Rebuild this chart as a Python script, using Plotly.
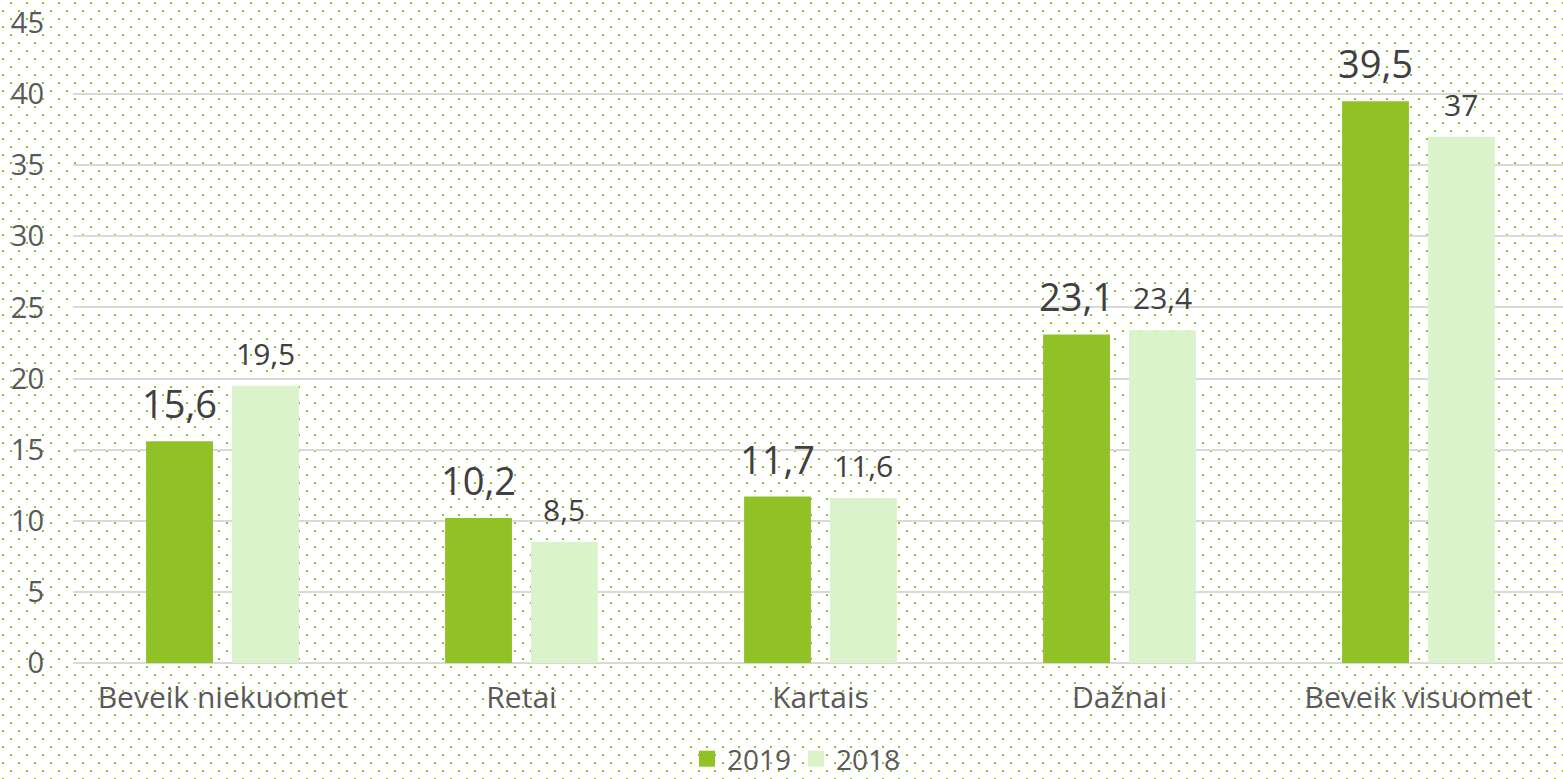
import base64

import plotly.graph_objects as go

categories = ["Beveik niekuomet", "Retai", "Kartais", "Dažnai", "Beveik visuomet"]
values_2019 = [15.6, 10.2, 11.7, 23.1, 39.5]
values_2018 = [19.5, 8.5, 11.6, 23.4, 37]
series = [("2019", values_2019, "#90c226", 38), ("2018", values_2018, "#dbf3cb", 30)]
y_ticks = [0, 5, 10, 15, 20, 25, 30, 35, 40, 45]

W, H = 1563, 779
L, T, B = 73, 23, 116
plot_w, plot_h = W - L, H - T - B

FONT = "Open Sans, DejaVu Sans, sans-serif"


def fmt(v):
    return f"{v:g}".replace(".", ",")


# dotted background, drawn as a tiled svg pattern over the whole page
svg = (
    f'<svg xmlns="http://www.w3.org/2000/svg" width="{W}" height="{H}">'
    '<defs><pattern id="d" width="16" height="16" patternUnits="userSpaceOnUse">'
    '<rect x="2" y="10" width="2" height="2" fill="#8fc31f"/>'
    '<rect x="10" y="2" width="2" height="2" fill="#8fc31f"/>'
    '</pattern></defs>'
    f'<rect width="{W}" height="{H}" fill="url(#d)"/></svg>'
)
bg_src = "data:image/svg+xml;base64," + base64.b64encode(svg.encode()).decode()

fig = go.Figure()

bargap, bargroupgap = 0.425, 0.222
cat_px = 299
slot_px = cat_px * (1 - bargap) / 2

for i, (name, vals, color, size) in enumerate(series):
    fig.add_trace(go.Bar(
        x=categories, y=vals, name=name, marker=dict(color=color, line=dict(width=0)),
        showlegend=False, hoverinfo="x+y",
    ))
    # legend entry with a bigger square than the default bar icon
    fig.add_trace(go.Scatter(
        x=[None], y=[None], mode="markers", name=name,
        marker=dict(symbol="square", size=17, color=color),
    ))
    shift = (i - 0.5) * slot_px
    for c, v in zip(categories, vals):
        fig.add_annotation(
            x=c, y=v, xref="x", yref="y", text=fmt(v), showarrow=False,
            xshift=shift, yanchor="bottom", yshift=10,
            font=dict(family=FONT, size=size, color="#404040"),
        )

fig.add_layout_image(
    source=bg_src, xref="paper", yref="paper",
    x=-L / plot_w, y=1 + T / plot_h, sizex=W / plot_w, sizey=H / plot_h,
    xanchor="left", yanchor="top", sizing="stretch", layer="below",
)

fig.update_layout(
    width=W, height=H,
    margin=dict(l=L, r=0, t=T, b=B, autoexpand=False),
    paper_bgcolor="white", plot_bgcolor="rgba(0,0,0,0)",
    font=dict(family=FONT, size=29, color="#595959"),
    barmode="group", bargap=bargap, bargroupgap=bargroupgap,
    legend=dict(
        orientation="h", x=(687 - L) / plot_w, xanchor="left",
        y=-(759 - 663) / plot_h, yanchor="middle",
        font=dict(family=FONT, size=28, color="#595959"),
        bgcolor="rgba(0,0,0,0)", itemwidth=30,
    ),
    showlegend=True,
)
fig.update_xaxes(
    range=[-0.5, -0.5 + plot_w / cat_px], showgrid=False, showline=False,
    ticks="", ticklabelstandoff=14, tickfont=dict(size=30), automargin=False,
)
fig.update_yaxes(
    range=[0, 45], tickvals=y_ticks, showgrid=True, gridcolor="#d9d9d9", gridwidth=2,
    zeroline=True, zerolinecolor="#d9d9d9", zerolinewidth=2,
    ticks="", ticklabelstandoff=28, tickfont=dict(size=29), automargin=False,
)

# the page body has a default 8px margin; drop it so the chart sits at the corner
fig.write_html(
    "out.html",
    config={"displayModeBar": False},
    post_script="document.body.style.margin='0';",
)
